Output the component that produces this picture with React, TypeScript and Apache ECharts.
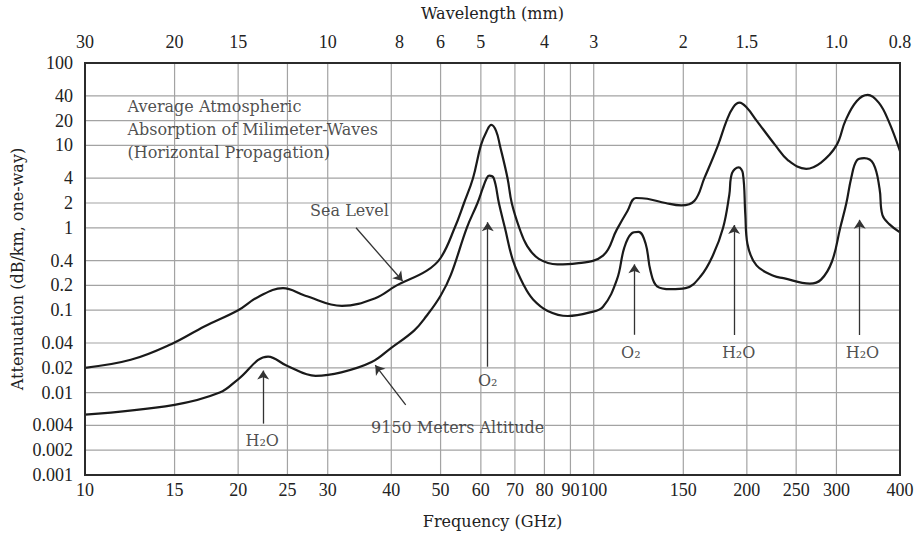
import React, { useEffect, useRef } from 'react';
import * as echarts from 'echarts';

// Bottom axis: frequency gridlines / labels (GHz)
const freqTicks = [10, 15, 20, 25, 30, 40, 50, 60, 70, 80, 90, 100, 150, 200, 250, 300, 400];
const freqLabels = ['10', '15', '20', '25', '30', '40', '50', '60', '70', '80', '90', '100', '150', '200', '250', '300', '400'];

// Left axis: attenuation gridlines / labels (dB/km)
const attenTicks = [100, 40, 20, 10, 4, 2, 1, 0.4, 0.2, 0.1, 0.04, 0.02, 0.01, 0.004, 0.002, 0.001];
const attenLabels = ['100', '40', '20', '10', '4', '2', '1', '0.4', '0.2', '0.1', '0.04', '0.02', '0.01', '0.004', '0.002', '0.001'];

// Top axis: wavelength labels (mm) and the frequency they sit at
const wavelengthLabels = ['30', '20', '15', '10', '8', '6', '5', '4', '3', '2', '1.5', '1.0', '0.8'];
const wavelengthFreqs = [10, 15, 20, 30, 41.5, 50, 60, 80, 100, 150, 200, 300, 400];

// Sea level curve
const seaLevelFreq = [10, 12.3, 14.8, 17.2, 20, 21.9, 24.5, 27.1, 32, 37.2, 41, 46.9, 50, 53.3, 55.6, 57.9, 60, 61.6, 62.9, 64.3, 65.4, 67.7, 69, 71.4, 74, 78, 84.8, 92.5, 104.3, 111, 116.5, 121, 127.4, 138.4, 148.6, 157.8, 165, 175.5, 182.5, 188, 193.5, 200, 209, 227.6, 241, 261.7, 279.8, 300, 312.5, 329, 345.7, 363.3, 379.6, 400];
const seaLevelAtten = [0.02, 0.025, 0.039, 0.064, 0.1, 0.145, 0.185, 0.15, 0.113, 0.14, 0.2, 0.3, 0.43, 1.0, 2.0, 4.0, 10, 14.9, 17.7, 14.9, 10, 4.0, 2.0, 1.0, 0.6, 0.42, 0.36, 0.37, 0.46, 0.95, 1.6, 2.3, 2.25, 2.0, 1.87, 2.13, 4.0, 10, 20, 29, 33, 28.6, 20, 10, 6.6, 5.2, 6.2, 10, 20, 34.6, 41, 33, 20, 8.5];

// 9150 m altitude curve
const altitudeFreq = [10, 15, 18.4, 20, 22.9, 25, 28.4, 31.9, 36.6, 40, 44.4, 46.9, 50, 52.4, 56.3, 59.1, 60.5, 61.6, 62.3, 63.6, 65.1, 66.9, 69.4, 72.9, 76, 81.2, 88.9, 98.3, 104.3, 111.1, 114.8, 118.6, 122.5, 126.5, 129.3, 133.2, 141.8, 151.5, 162.4, 171.7, 179.6, 184.7, 187, 192.7, 196.4, 198.6, 200.5, 208.9, 226.2, 236, 266, 279.8, 294, 305.2, 313.8, 320.7, 329, 340, 354.6, 364.6, 369.4, 381.5, 400];
const altitudeAtten = [0.0054, 0.0071, 0.01, 0.0145, 0.0274, 0.021, 0.016, 0.0176, 0.0235, 0.035, 0.057, 0.085, 0.15, 0.27, 1.0, 2.0, 3.0, 4.0, 4.3, 4.0, 2.0, 1.0, 0.4, 0.2, 0.135, 0.098, 0.085, 0.094, 0.11, 0.236, 0.57, 0.85, 0.89, 0.64, 0.3, 0.195, 0.18, 0.185, 0.26, 0.47, 1.0, 2.5, 4.6, 5.4, 4.6, 1.45, 0.64, 0.35, 0.26, 0.245, 0.21, 0.235, 0.39, 1.0, 2.0, 4.0, 6.6, 7, 6.0, 3.0, 1.43, 1.1, 0.88];

// Annotation arrows: from (freq, atten) to (freq, atten)
const arrowFrom = [[22.4, 0.0042], [61.9, 0.0206], [120.2, 0.0503], [188.8, 0.05], [333.3, 0.05], [34.1, 1.0], [42.7, 0.0071]];
const arrowTo = [[22.4, 0.0185], [61.9, 1.17], [120.2, 0.36], [188.8, 1.08], [333.3, 1.25], [42.1, 0.226], [37.2, 0.0215]];

// Annotation texts and their anchor (freq, atten)
const annotationTexts = [
  'Average Atmospheric\nAbsorption of Milimeter-Waves\n(Horizontal Propagation)',
  'Sea Level',
  '9150 Meters Altitude',
  'H₂O',
  'O₂',
  'O₂',
  'H₂O',
  'H₂O',
];
const annotationFreq = [12.12, 27.7, 36.5, 22.3, 61.9, 118.3, 192.7, 337.5];
const annotationAtten = [15.4, 1.63, 0.0038, 0.0026, 0.0139, 0.031, 0.031, 0.031];
const annotationLeftAligned = [true, true, true, false, false, false, false, false];

export default function App() {
  const ref = useRef<HTMLDivElement>(null);

  useEffect(() => {
    if (!ref.current) return;
    const chart = echarts.init(ref.current, undefined, { renderer: 'svg' });

    const tickFont = { fontFamily: 'Liberation Serif', fontSize: 18, color: '#222' };
    const annFont = { fontFamily: 'DejaVu Serif', fontSize: 16, color: '#222' };
    const gridColor = '#a3a3a3';
    const clear = { color: 'rgba(0,0,0,0)', width: 0 };

    const xLabelItems = freqTicks.map((v, i) => ({
      xAxis: v,
      lineStyle: clear,
      label: { show: true, position: 'start', distance: 6, formatter: freqLabels[i], ...tickFont },
    }));
    const yLabelItems = attenTicks.map((v, i) => ({
      yAxis: v,
      lineStyle: clear,
      label: { show: true, position: 'start', distance: 12, formatter: attenLabels[i], ...tickFont },
    }));
    const topLabelItems = wavelengthFreqs.map((f, i) => ({
      xAxis: f,
      lineStyle: clear,
      label: { show: true, position: 'end', distance: 12, formatter: wavelengthLabels[i], ...tickFont },
    }));

    const gridLineSeries: any[] = [];
    freqTicks.slice(1, -1).forEach((v) => {
      gridLineSeries.push({
        type: 'line',
        data: [[v, attenTicks[attenTicks.length - 1]], [v, attenTicks[0]]],
        showSymbol: false,
        silent: true,
        z: 1,
        lineStyle: { color: gridColor, width: 1.2 },
        emphasis: { disabled: true },
      });
    });
    attenTicks.slice(1, -1).forEach((v) => {
      gridLineSeries.push({
        type: 'line',
        data: [[freqTicks[0], v], [freqTicks[freqTicks.length - 1], v]],
        showSymbol: false,
        silent: true,
        z: 1,
        lineStyle: { color: gridColor, width: 1.2 },
        emphasis: { disabled: true },
      });
    });

    const hiddenAxis = {
      axisLine: { show: false },
      axisTick: { show: false },
      axisLabel: { show: false },
      splitLine: { show: false },
    };

    const curveStyle = {
      type: 'line',
      z: 3,
      showSymbol: false,
      smooth: 0.4,
      silent: true,
      lineStyle: { color: '#1a1a1a', width: 2.2 },
      emphasis: { disabled: true },
    };

    const option = {
      animation: false,
      grid: {
        left: 85,
        top: 61,
        width: 815,
        height: 414,
        show: true,
        borderColor: '#2b2b2b',
        borderWidth: 2,
        backgroundColor: 'transparent',
        z: 4,
      },
      xAxis: [
        {
          type: 'log',
          logBase: 10,
          min: 10,
          max: 400,
          name: 'Frequency (GHz)',
          nameLocation: 'middle',
          nameGap: 38,
          nameTextStyle: annFont,
          ...hiddenAxis,
        },
        {
          type: 'log',
          logBase: 10,
          min: 10,
          max: 400,
          position: 'top',
          name: 'Wavelength (mm)',
          nameLocation: 'middle',
          nameGap: 42,
          nameTextStyle: annFont,
          ...hiddenAxis,
        },
      ],
      yAxis: {
        type: 'log',
        logBase: 10,
        min: 0.001,
        max: 100,
        name: 'Attenuation (dB/km, one-way)',
        nameLocation: 'middle',
        nameGap: 60,
        nameTextStyle: annFont,
        ...hiddenAxis,
      },
      series: [
        ...gridLineSeries,
        {
          type: 'line',
          name: 'tickLabels',
          data: [],
          silent: true,
          markLine: {
            silent: true,
            precision: 6,
            symbol: ['none', 'none'],
            emphasis: { disabled: true },
            data: [...xLabelItems, ...yLabelItems, ...topLabelItems],
          },
        },
        {
          ...curveStyle,
          name: 'Sea Level',
          data: seaLevelFreq.map((f, i) => [f, seaLevelAtten[i]]),
        },
        {
          ...curveStyle,
          name: '9150 Meters Altitude',
          data: altitudeFreq.map((f, i) => [f, altitudeAtten[i]]),
        },
        {
          type: 'line',
          name: 'arrows',
          data: [],
          silent: true,
          markLine: {
            silent: true,
            precision: 6,
            symbol: ['none', 'arrow'],
            symbolSize: 9,
            label: { show: false },
            lineStyle: { color: '#333', width: 1.3, type: 'solid' },
            itemStyle: { color: '#333' },
            emphasis: { disabled: true },
            data: arrowFrom.map((a, i) => [
              { coord: [a[0], a[1]] },
              { coord: [arrowTo[i][0], arrowTo[i][1]] },
            ]),
          },
        },
        {
          type: 'scatter',
          name: 'annotations',
          symbolSize: 0,
          silent: true,
          z: 5,
          data: annotationTexts.map((t, i) => ({
            value: [annotationFreq[i], annotationAtten[i]],
            label: {
              show: true,
              formatter: t,
              position: annotationLeftAligned[i] ? 'right' : 'inside',
              distance: 0,
              lineHeight: 23,
              ...annFont,
            },
          })),
        },
      ],
    };

    chart.setOption(option as any);
    return () => chart.dispose();
  }, []);

  return (
    <div
      ref={ref}
      style={{ position: 'fixed', left: 0, top: 0, width: 914, height: 539, background: '#fff' }}
    />
  );
}
